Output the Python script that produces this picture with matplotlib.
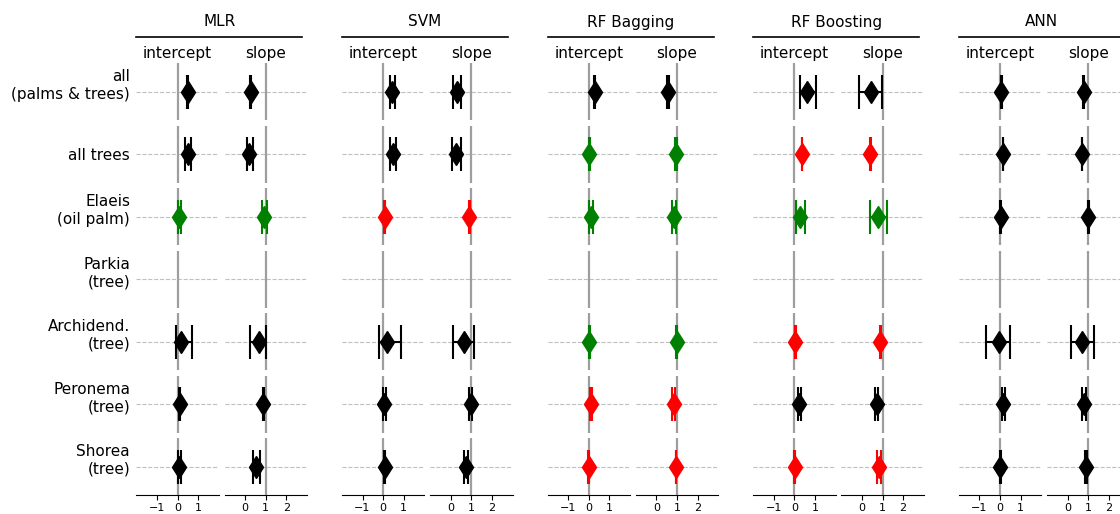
import matplotlib.pyplot as plt
from matplotlib.lines import Line2D
from matplotlib.transforms import ScaledTranslation

models = ["MLR", "SVM", "RF Bagging", "RF Boosting", "ANN"]
row_labels = ["all\n(palms & trees)", "all trees", "Elaeis\n(oil palm)", "Parkia\n(tree)",
              "Archidend.\n(tree)", "Peronema\n(tree)", "Shorea\n(tree)"]
params = ["intercept", "slope"]

# (estimate, lower, upper) per row, None where there is no estimate (Parkia)
mlr_intercept = [(0.50, 0.47, 0.53), (0.50, 0.36, 0.63), (0.08, 0.03, 0.16), None,
                 (0.16, -0.08, 0.68), (0.10, 0.07, 0.13), (0.08, 0.02, 0.18)]
mlr_slope = [(0.27, 0.24, 0.30), (0.21, 0.07, 0.37), (0.93, 0.83, 1.04), None,
             (0.65, 0.26, 1.00), (0.88, 0.85, 0.91), (0.54, 0.37, 0.70)]
mlr_colors = ["k", "k", "green", "k", "k", "k", "k"]

svm_intercept = [(0.44, 0.33, 0.57), (0.47, 0.33, 0.62), (0.08, 0.06, 0.10), None,
                 (0.21, -0.20, 0.85), (0.06, -0.02, 0.14), (0.07, 0.05, 0.09)]
svm_slope = [(0.29, 0.13, 0.52), (0.26, 0.08, 0.50), (0.90, 0.88, 0.92), None,
             (0.62, 0.10, 1.15), (0.96, 0.87, 1.05), (0.75, 0.62, 0.86)]
svm_colors = ["k", "k", "red", "k", "k", "k", "k"]

bag_intercept = [(0.29, 0.27, 0.31), (0.02, 0.00, 0.04), (0.13, 0.03, 0.21), None,
                 (0.02, 0.00, 0.04), (0.11, 0.07, 0.15), (0.00, -0.02, 0.02)]
bag_slope = [(0.57, 0.50, 0.63), (0.95, 0.92, 0.98), (0.87, 0.74, 0.95), None,
             (0.98, 0.96, 1.00), (0.85, 0.78, 0.91), (0.95, 0.93, 0.97)]
bag_colors = ["k", "green", "green", "k", "green", "red", "red"]

boost_intercept = [(0.60, 0.29, 1.04), (0.37, 0.35, 0.39), (0.29, 0.10, 0.52), None,
                   (0.05, 0.03, 0.07), (0.24, 0.18, 0.33), (0.02, 0.00, 0.04)]
boost_slope = [(0.42, -0.13, 0.98), (0.41, 0.39, 0.43), (0.78, 0.39, 1.22), None,
               (0.90, 0.88, 0.92), (0.72, 0.63, 0.78), (0.85, 0.75, 0.93)]
boost_colors = ["k", "red", "green", "k", "red", "k", "red"]

ann_intercept = [(0.07, 0.05, 0.09), (0.15, 0.13, 0.17), (0.03, 0.01, 0.05), None,
                 (-0.03, -0.68, 0.49), (0.16, 0.10, 0.23), (0.02, 0.00, 0.04)]
ann_slope = [(0.79, 0.77, 0.81), (0.70, 0.68, 0.72), (1.00, 0.98, 1.02), None,
             (0.70, 0.18, 1.26), (0.80, 0.72, 0.88), (0.89, 0.85, 0.93)]
ann_colors = ["k"] * 7

estimates = {
    "MLR": (mlr_intercept, mlr_slope, mlr_colors),
    "SVM": (svm_intercept, svm_slope, svm_colors),
    "RF Bagging": (bag_intercept, bag_slope, bag_colors),
    "RF Boosting": (boost_intercept, boost_slope, boost_colors),
    "ANN": (ann_intercept, ann_slope, ann_colors),
}

W, H = 1120, 514
fig = plt.figure(figsize=(W / 100, H / 100), dpi=100)

# layout in pixels
block_step = 205.6
int_left, slope_left = 136.3, 224.5
ax_w = 82.5
row_top0, row_step, row_h = 63.3, 62.5, 57

ref_x = {"intercept": 0, "slope": 1}
xlims = {"intercept": (-2, 2), "slope": (-1, 3)}
xticks = {"intercept": [-1, 0, 1], "slope": [0, 1, 2]}

for m, model in enumerate(models):
    int_vals, slope_vals, colors = estimates[model]
    lefts = [int_left + block_step * m, slope_left + block_step * m]

    # model header and rule
    x0 = lefts[0]
    x1 = lefts[0] + 166
    fig.text((x0 + x1) / 2 / W, 1 - 22 / H, model, ha="center", va="center", fontsize=11)
    fig.add_artist(Line2D([x0 / W, x1 / W], [1 - 37.3 / H] * 2, transform=fig.transFigure,
                          color="k", lw=1.2))

    for p, param in enumerate(params):
        vals = int_vals if p == 0 else slope_vals
        for r, label in enumerate(row_labels):
            top = row_top0 + row_step * r
            ax = fig.add_axes([lefts[p] / W, 1 - (top + row_h) / H, ax_w / W, row_h / H])
            ax.set_xlim(*xlims[param])
            ax.set_ylim(-1, 1)
            ax.axvline(ref_x[param], color="0.62", lw=1.6, zorder=1)
            ax.axhline(0, color="0.75", lw=0.8, ls="--", zorder=0)

            v = vals[r]
            if v is not None:
                est, lo, hi = v
                ax.errorbar([est], [0], xerr=[[est - lo], [hi - est]], fmt="d",
                            color=colors[r], ms=11.5, capsize=12, elinewidth=1.5,
                            capthick=1.5, zorder=3)

            for s in ["top", "left", "right"]:
                ax.spines[s].set_visible(False)
            if r == len(row_labels) - 1:
                ax.set_xticks(xticks[param])
                ax.tick_params(axis="x", labelsize=8, pad=2)
            else:
                ax.spines["bottom"].set_visible(False)
                ax.set_xticks([])

            if m == 0 and p == 0:
                ax.set_yticks([0])
                ax.set_yticklabels([label], fontsize=11)
                ax.tick_params(axis="y", length=0, pad=4.5)
                # two-line labels: last line sits on the row line
                if "\n" in label:
                    for t in ax.get_yticklabels():
                        t.set_transform(t.get_transform() +
                                        ScaledTranslation(0, 6.4 / 72, fig.dpi_scale_trans))
            else:
                ax.set_yticks([])

            if r == 0:
                ax.set_title(param, fontsize=11, pad=4)

fig.savefig("out.png", dpi=100)
